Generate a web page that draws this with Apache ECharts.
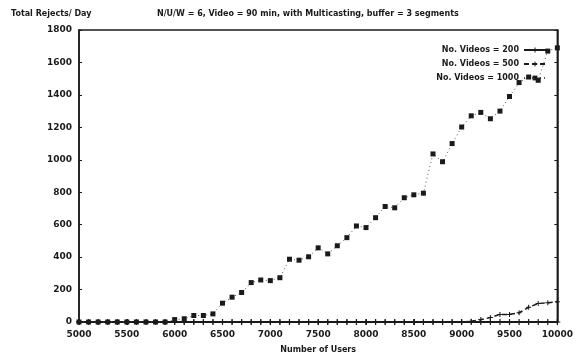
<!DOCTYPE html>
<html>
<head>
<meta charset="utf-8">
<script src="https://cdn.jsdelivr.net/npm/echarts@6/dist/echarts.min.js"></script>
<style>
    html, body { margin: 0; padding: 0; background: #fff; }
    #chart { width: 576px; height: 359px; }
</style>
</head>
<body>
<div id="chart"></div>
<script>
// number of users (x values)
var users = [5000, 5100, 5200, 5300, 5400, 5500, 5600, 5700, 5800, 5900,
    6000, 6100, 6200, 6300, 6400, 6500, 6600, 6700, 6800, 6900,
    7000, 7100, 7200, 7300, 7400, 7500, 7600, 7700, 7800, 7900,
    8000, 8100, 8200, 8300, 8400, 8500, 8600, 8700, 8800, 8900,
    9000, 9100, 9200, 9300, 9400, 9500, 9600, 9700, 9800, 9900, 10000];

// total rejects per day
var videos200 = [0, 0, 0, 0, 0, 0, 0, 0, 0, 0,
    0, 0, 0, 0, 0, 0, 0, 0, 0, 0,
    0, 0, 0, 0, 0, 0, 0, 0, 0, 0,
    0, 0, 0, 0, 0, 0, 0, 0, 0, 0,
    0, 0, 0, 0, 0, 0, 0, 0, 0, 0, 0];
var videos500 = [0, 0, 0, 0, 0, 0, 0, 0, 0, 0,
    0, 0, 0, 0, 0, 0, 0, 0, 0, 0,
    0, 0, 0, 0, 0, 0, 0, 0, 0, 0,
    0, 0, 0, 0, 0, 0, 0, 0, 0, 0,
    0, 4, 15, 27, 47, 47, 57, 91, 114, 119, 125];
var videos1000 = [0, 0, 0, 0, 0, 0, 0, 0, 0, 0,
    15, 20, 40, 40, 50, 116, 153, 182, 243, 259,
    255, 273, 387, 381, 402, 457, 420, 470, 520, 592,
    582, 643, 712, 704, 766, 784, 794, 1036, 988, 1100,
    1202, 1271, 1292, 1253, 1300, 1390, 1476, 1510, 1490, 1670, 1690];

var seriesNames = ['No. Videos = 200', 'No. Videos = 500', 'No. Videos = 1000'];
var xTicks = {min: 5000, max: 10000, interval: 500};
var yTicks = {min: 0, max: 1800, interval: 200};

function pairs(vals) {
    var out = [];
    for (var i = 0; i < users.length; i++) {
        out.push([users[i], vals[i]]);
    }
    return out;
}

var font = 'DejaVu Sans';
var ink = '#1a1a1a';
var plus = 'path://M4,0H6V4H10V6H6V10H4V6H0V4H4Z';
var plain = function (v) { return String(v); };

var myChart = echarts.init(document.getElementById('chart'), null, {renderer: 'canvas'});

var option = {
    backgroundColor: '#fff',
    animation: false,
    title: [{
        text: 'Total Rejects/ Day',
        left: 6, top: 5,
        textStyle: {fontFamily: font, fontSize: 8, fontWeight: 'bold', color: ink}
    }, {
        text: 'N/U/W = 6, Video = 90 min, with Multicasting, buffer = 3 segments',
        left: 152, top: 5,
        textStyle: {fontFamily: font, fontSize: 8, fontWeight: 'bold', color: ink}
    }],
    legend: {
        orient: 'vertical',
        align: 'right',
        right: 24,
        top: 41,
        itemWidth: 22,
        itemHeight: 6,
        itemGap: 6,
        textStyle: {fontFamily: font, fontSize: 8, fontWeight: 'bold', color: ink},
        data: seriesNames
    },
    grid: {
        left: 79, right: 13, top: 30, bottom: 35,
        show: true, borderColor: ink, borderWidth: 1.5
    },
    xAxis: [{
        type: 'value',
        min: xTicks.min, max: xTicks.max, interval: xTicks.interval,
        name: 'Number of Users',
        nameLocation: 'middle',
        nameGap: 24,
        nameTextStyle: {fontFamily: font, fontSize: 8, fontWeight: 'bold', color: ink},
        axisLine: {lineStyle: {color: ink, width: 1.5}},
        axisTick: {inside: true, length: 3, lineStyle: {color: ink}},
        axisLabel: {fontFamily: font, fontSize: 9, fontWeight: 'bold', color: ink, margin: 8, formatter: plain},
        splitLine: {show: false}
    }, {
        type: 'value', position: 'top',
        min: xTicks.min, max: xTicks.max, interval: xTicks.interval,
        axisLine: {lineStyle: {color: ink, width: 1.5}},
        axisTick: {inside: true, length: 3, lineStyle: {color: ink}},
        axisLabel: {show: false},
        splitLine: {show: false}
    }],
    yAxis: [{
        type: 'value',
        min: yTicks.min, max: yTicks.max, interval: yTicks.interval,
        axisLine: {show: true, lineStyle: {color: ink, width: 1.5}},
        axisTick: {show: true, inside: true, length: 3, lineStyle: {color: ink}},
        axisLabel: {fontFamily: font, fontSize: 9, fontWeight: 'bold', color: ink, margin: 7, formatter: plain},
        splitLine: {show: false}
    }, {
        type: 'value', position: 'right',
        min: yTicks.min, max: yTicks.max, interval: yTicks.interval,
        axisLine: {show: true, lineStyle: {color: ink, width: 1.5}},
        axisTick: {show: true, inside: true, length: 3, lineStyle: {color: ink}},
        axisLabel: {show: false},
        splitLine: {show: false}
    }],
    series: [{
        name: seriesNames[0],
        type: 'line',
        data: pairs(videos200),
        symbol: plus,
        symbolSize: 6,
        lineStyle: {color: ink, width: 2, type: 'solid'},
        itemStyle: {color: ink},
        z: 3
    }, {
        name: seriesNames[1],
        type: 'line',
        data: pairs(videos500),
        symbol: plus,
        symbolSize: 5,
        lineStyle: {color: ink, width: 1.5, type: [5, 3]},
        itemStyle: {color: ink},
        z: 4
    }, {
        name: seriesNames[2],
        type: 'line',
        data: pairs(videos1000),
        symbol: 'rect',
        symbolSize: 5,
        lineStyle: {color: '#555', width: 1, type: [1, 3]},
        itemStyle: {color: ink},
        z: 5
    }]
};

myChart.setOption(option);
</script>
</body>
</html>
